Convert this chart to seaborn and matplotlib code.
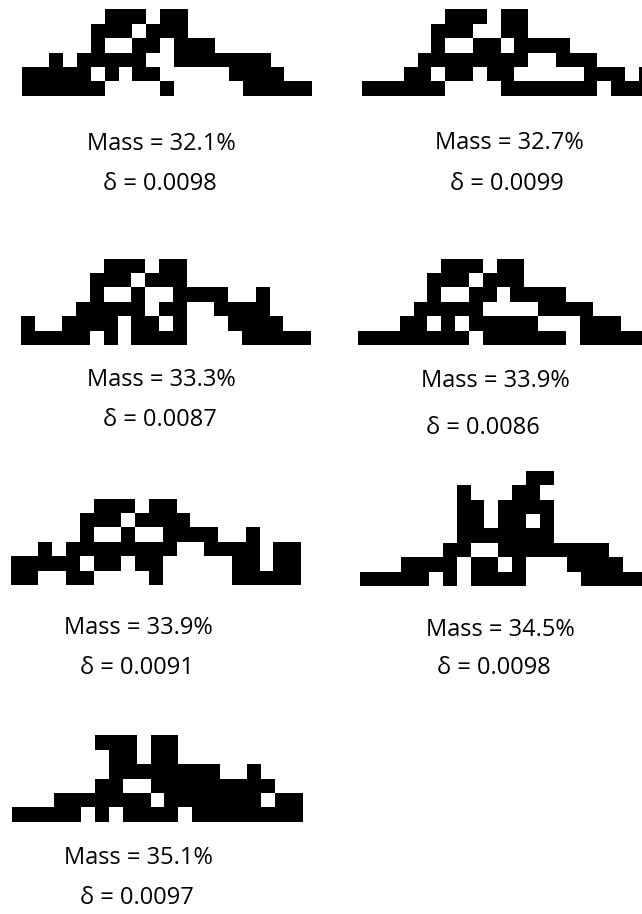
import numpy as np
import matplotlib
matplotlib.use("Agg")
import matplotlib.pyplot as plt
from matplotlib.colors import ListedColormap
import seaborn as sns

sns.set_style("white")
plt.rcParams['font.family'] = ['Open Sans', 'DejaVu Sans']

# Binary grids (21 x 8), '#' = black cell
shape1 = [".....................",
          ".....................",
          "......###.##.........",
          ".....###.###.........",
          ".....#..##.###.......",
          "..#.#####..#######...",
          "#####.#.##.....####..",
          "######....#.....#####"]
shape2 = [".....................",
          ".....................",
          "......###.##.........",
          ".....###..##.........",
          ".....#..##.####......",
          "....########..###....",
          "...##.##.##.....###.#",
          "######....#######.###"]
shape3 = [".....................",
          ".....................",
          "......###.##.........",
          ".....###.###.........",
          ".....#..#..####..#...",
          "....#####.##..####...",
          "#..####.##.#...####..",
          "#####.#.####....#####"]
shape4 = [".....................",
          ".....................",
          "......###.##.........",
          ".....###.###.........",
          ".....#..##.####......",
          "....#####....####....",
          "...##.#.#####...###..",
          "########.######.#####"]
shape5 = [".....................",
          ".....................",
          "......###.##.........",
          ".....###.####........",
          ".....#..#..####..#...",
          "..#.########..####.##",
          "#####.##.##.....##.##",
          "##..##....#.....#####"]
shape6 = ["............##.......",
          ".......#...##........",
          ".......##.####.......",
          ".......##.##.#.......",
          ".......#######.......",
          "......##..########...",
          "...####.##.#...####..",
          "#####.#.####....#####"]
shape7 = [".....................",
          ".....................",
          "......###.##.........",
          ".......##.##.........",
          ".......########..#...",
          "......##..#########..",
          "...#######.#######.##",
          "#####.#.####.########"]

masses = ["32.1%", "32.7%", "33.3%", "33.9%", "33.9%", "34.5%", "35.1%"]
deltas = ["0.0098", "0.0099", "0.0087", "0.0086", "0.0091", "0.0098", "0.0097"]
shapes = [shape1, shape2, shape3, shape4, shape5, shape6, shape7]

W, H = 642, 914
fig = plt.figure(figsize=(W / 100, H / 100), dpi=100)

cw, ch = 13.83, 14.4
# (left px, bottom px) of each grid
grid_pos = [(21.7, 95.7), (362.3, 95.7), (20.7, 345), (358.3, 345),
            (10.7, 585), (360, 586), (12.3, 821.7)]
# (x, y) centers of mass and delta labels
mass_pos = [(161, 144), (509, 143), (161, 380), (495, 381),
            (138, 628), (500, 630), (138, 858)]
delta_pos = [(160, 184), (507, 184), (160, 420), (483, 428),
             (137, 668), (494, 668), (137, 898)]

cmap = ListedColormap(["white", "black"])
for shp, (lx, by) in zip(shapes, grid_pos):
    arr = np.array([[1 if c == "#" else 0 for c in row] for row in shp])
    nr, nc = arr.shape
    ax = fig.add_axes([lx / W, 1 - by / H, nc * cw / W, nr * ch / H])
    sns.heatmap(arr, ax=ax, cmap=cmap, vmin=0, vmax=1, cbar=False,
                xticklabels=False, yticklabels=False, linewidths=0)
    ax.set_axis_off()

for m, d, (mx, my), (dx, dy) in zip(masses, deltas, mass_pos, delta_pos):
    fig.text(mx / W, 1 - my / H, "Mass = " + m, ha="center", va="center",
             fontsize=17, color="black")
    fig.text(dx / W, 1 - dy / H, "δ = " + d, ha="center", va="center",
             fontsize=17, color="black")

fig.savefig("out.png", dpi=100)
